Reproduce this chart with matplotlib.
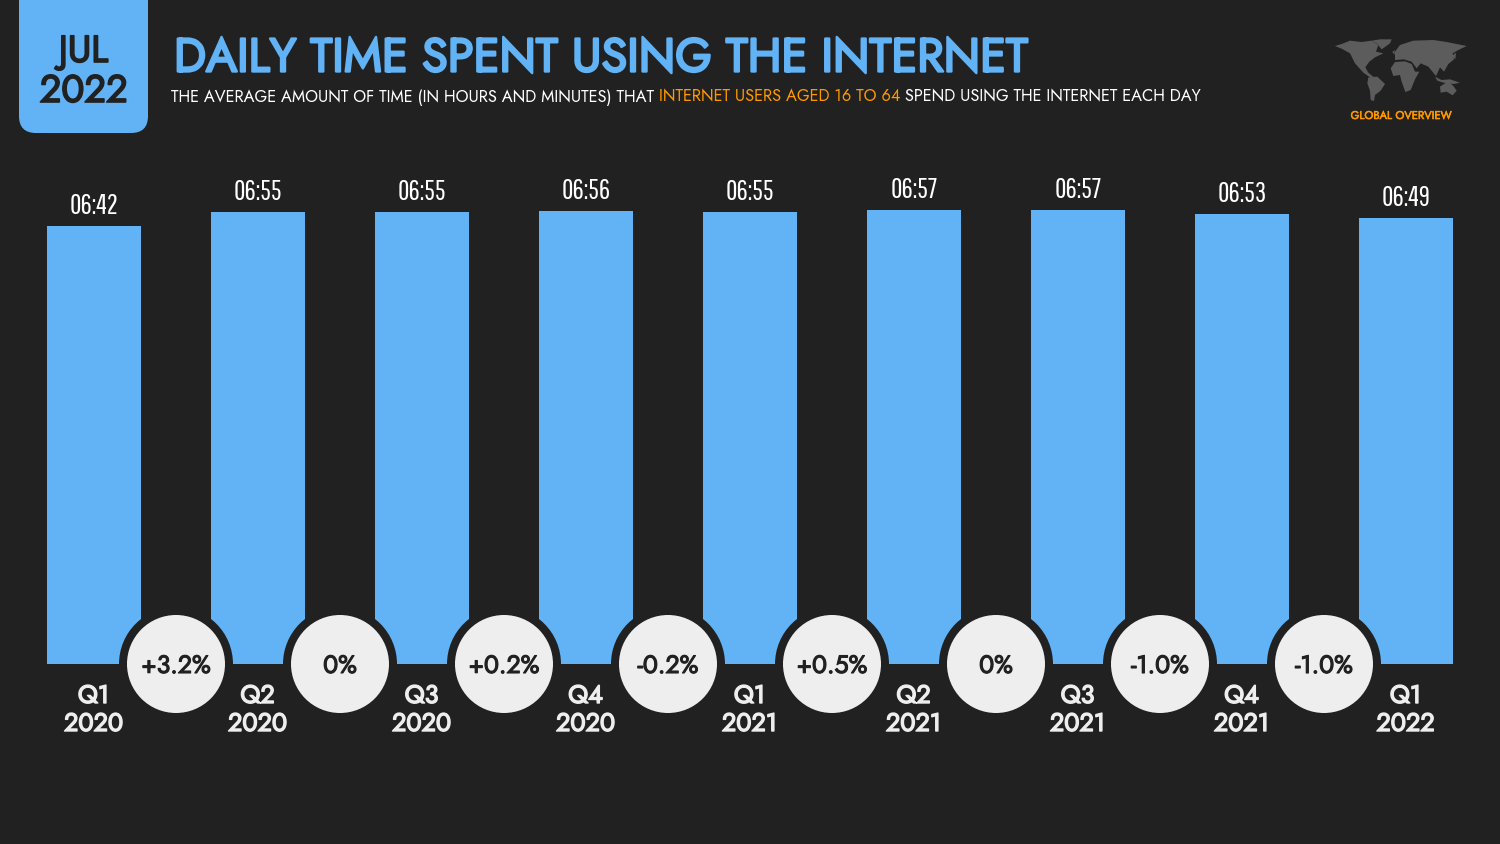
import matplotlib
matplotlib.use("Agg")
import matplotlib.pyplot as plt
import matplotlib.patheffects as pe
from matplotlib.patches import Circle, FancyBboxPatch, Polygon

# -----------------------------
# DATA
# -----------------------------
quarters = ["Q1", "Q2", "Q3", "Q4", "Q1", "Q2", "Q3", "Q4", "Q1"]
years = ["2020", "2020", "2020", "2020", "2021", "2021", "2021", "2021", "2022"]
time_labels = ["06:42", "06:55", "06:55", "06:56", "06:55", "06:57", "06:57", "06:53", "06:49"]
changes = ["+3.2%", "0%", "+0.2%", "-0.2%", "+0.5%", "0%", "-1.0%", "-1.0%"]

minutes = [int(t[:2]) * 60 + int(t[3:]) for t in time_labels]

# -----------------------------
# STYLE
# -----------------------------
BG = "#212121"
BLUE = "#62B2F6"
ORANGE = "#FF9800"
LIGHT = "#EEEEEE"
MAP_GREY = "#5C5C5C"
MAIN_FONT = ["Jost", "Lato", "DejaVu Sans"]
NARROW_FONT = ["Pathway Gothic One", "Barlow Condensed", "Lato", "DejaVu Sans"]


def heavy_text(axes, x, y, s, color, size, stroke):
    # Jost only ships its regular weight here, so thicken it with a stroke
    axes.text(x, y, s, ha="center", va="center", color=color, fontsize=size, family=MAIN_FONT,
              path_effects=[pe.withStroke(linewidth=stroke, foreground=color)])


W, H = 1500, 844
fig = plt.figure(figsize=(W / 100, H / 100), dpi=100, facecolor=BG)

# -----------------------------
# BARS
# -----------------------------
PX_PER_MIN = 438 / 402
BASE_Y = 664
TOP_Y = 150
STEP = 164.0
left_px = 94 - STEP / 2
ax = fig.add_axes([left_px / W, (H - BASE_Y) / H, 9 * STEP / W, (BASE_Y - TOP_Y) / H])
ax.set_facecolor("none")
ax.set_xlim(-0.5, 8.5)
ax.set_ylim(0, (BASE_Y - TOP_Y) / PX_PER_MIN)
ax.axis("off")

xs = list(range(len(minutes)))
ax.bar(xs, minutes, width=94 / STEP, color=BLUE, linewidth=0)
for x, m, label in zip(xs, minutes, time_labels):
    ax.annotate(label, (x, m), xytext=(0, 20), textcoords="offset pixels",
                ha="center", va="center", color="white", fontsize=20,
                family=NARROW_FONT)

# -----------------------------
# OVERLAY IN PIXEL COORDINATES
# -----------------------------
ov = fig.add_axes([0, 0, 1, 1], facecolor="none")
ov.set_xlim(0, W)
ov.set_ylim(H, 0)
ov.axis("off")

# date tag
ov.add_patch(FancyBboxPatch((19, -40), 129, 173, boxstyle="round,pad=0,rounding_size=17",
                            facecolor=BLUE, edgecolor="none"))
heavy_text(ov, 83.5, 51, "JUL", BG, 27, 1.2)
heavy_text(ov, 83.5, 91, "2022", BG, 27.5, 1.2)

# title
ov.text(174, 58, "DAILY TIME SPENT USING THE INTERNET", ha="left", va="center",
        color=BLUE, fontsize=33.9, family=MAIN_FONT,
        path_effects=[pe.withStroke(linewidth=1.7, foreground=BLUE)])

# subtitle, three runs placed one after the other
renderer = fig.canvas.get_renderer()
sub_parts = [
    ("THE AVERAGE AMOUNT OF TIME (IN HOURS AND MINUTES) THAT ", "white"),
    ("INTERNET USERS AGED 16 TO 64", ORANGE),
    (" SPEND USING THE INTERNET EACH DAY", "white"),
]
cur_x = 171
for part, col in sub_parts:
    t = ov.text(cur_x, 97, part.replace(" ", "\u00a0"), ha="left", va="center",
                color=col, fontsize=11.82, family=MAIN_FONT)
    cur_x += t.get_window_extent(renderer).width

# change bubbles and axis labels
for i, label in enumerate(changes):
    cx = 94 + STEP * (i + 0.5)
    ov.add_patch(Circle((cx, BASE_Y), 57, facecolor=BG, edgecolor="none"))
    ov.add_patch(Circle((cx, BASE_Y), 49, facecolor=LIGHT, edgecolor="none"))
    heavy_text(ov, cx, BASE_Y + 2, label, BG, 18, 0.8)

for i, (q, y) in enumerate(zip(quarters, years)):
    cx = 94 + STEP * i - 0.5
    heavy_text(ov, cx, 696, q, LIGHT, 18.2, 1.0)
    heavy_text(ov, cx, 724, y, LIGHT, 18.2, 1.0)

# -----------------------------
# WORLD MAP LOGO (rough outlines, traced from a 3x crop)
# -----------------------------
continents = [
    # north america
    [(105, 78), (125, 72), (150, 62), (185, 66), (215, 62), (235, 75), (228, 95), (250, 100),
     (225, 112), (208, 125), (196, 142), (205, 158), (222, 172), (210, 172), (190, 158),
     (165, 130), (150, 100), (125, 86)],
    # greenland
    [(215, 62), (240, 58), (275, 58), (270, 70), (245, 88), (232, 72)],
    # south america
    [(205, 172), (232, 170), (255, 192), (242, 212), (225, 225), (222, 243), (212, 240),
     (210, 212), (202, 190)],
    # eurasia
    [(285, 95), (300, 75), (340, 62), (400, 60), (440, 66), (500, 78), (475, 90), (458, 100),
     (462, 118), (445, 132), (432, 155), (420, 142), (408, 168), (385, 140), (362, 130),
     (350, 145), (335, 125), (312, 118), (285, 120)],
    # africa
    [(272, 145), (285, 126), (315, 124), (335, 132), (345, 155), (358, 155), (345, 178),
     (332, 210), (316, 216), (304, 182), (300, 165), (280, 168)],
    # australia
    [(420, 200), (435, 190), (448, 186), (460, 198), (470, 212), (458, 226), (440, 215),
     (422, 218)],
    # indonesia
    [(405, 170), (425, 180), (450, 178), (480, 188), (462, 192), (430, 188), (412, 182)],
    # japan, uk
    [(456, 108), (468, 98), (466, 118)],
    [(277, 96), (284, 90), (284, 105)],
]
for poly in continents:
    pts = [(1300 + px / 3, 20 + py / 3) for px, py in poly]
    ov.add_patch(Polygon(pts, closed=True, facecolor=MAP_GREY, edgecolor="none"))

heavy_text(ov, 1401, 116, "GLOBAL OVERVIEW", ORANGE, 8.1, 0.4)

fig.savefig("out.png", dpi=100, facecolor=BG)
